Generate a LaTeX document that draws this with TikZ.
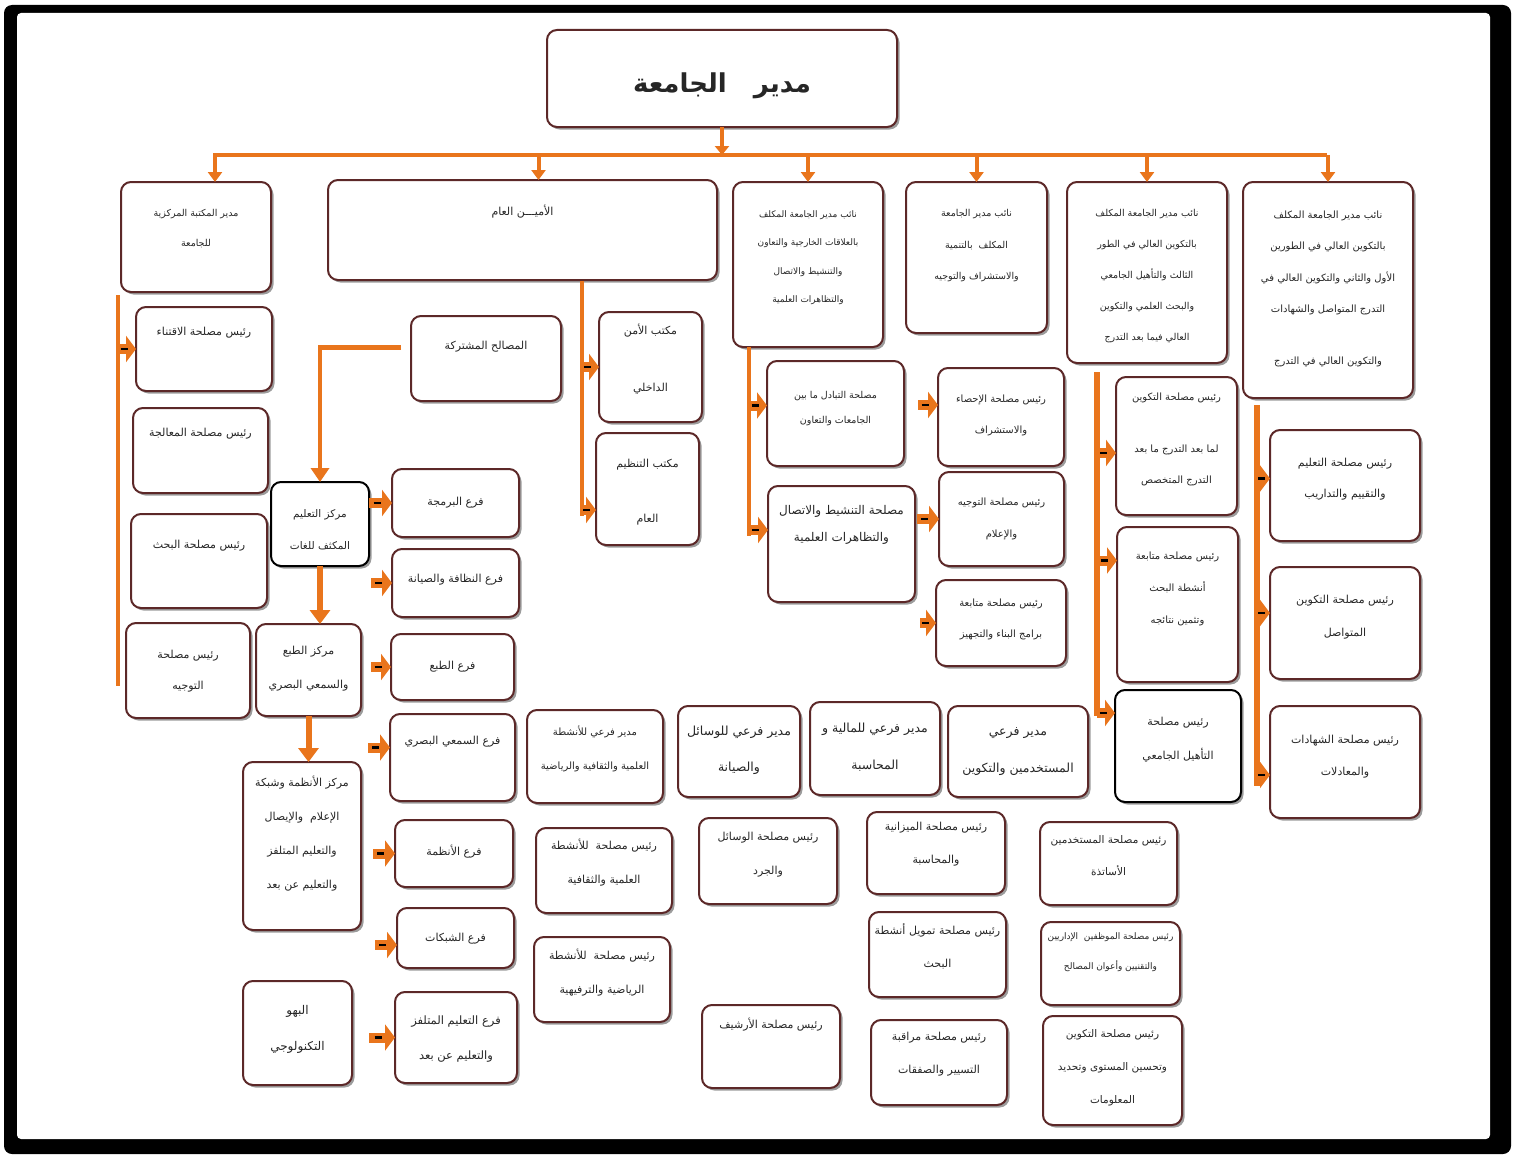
\documentclass[tikz,border=0pt]{standalone}
\usepackage{fontspec}
\newfontfamily\arabicfont[Script=Arabic]{DejaVu Sans}
\usetikzlibrary{arrows.meta,shadows,decorations.markings,calc}
\TeXXeTstate=1
\newcommand\arl[1]{\beginR #1\endR}
\definecolor{org}{RGB}{233,117,28}
\definecolor{mar}{RGB}{92,40,40}
\tikzset{
 ubox/.style={draw=mar,line width=2pt,rounded corners=10pt,fill=white,inner sep=0pt,outer sep=0pt,
   drop shadow={shadow xshift=2.5pt,shadow yshift=-2.5pt,opacity=0.55,fill=black!70}},
 txt/.style={inner sep=0pt,align=center,text=black!85,font=\arabicfont\fontsize{11}{31}\selectfont},
 fs/.style 2 args={font=\arabicfont\fontsize{#1}{#2}\selectfont},
 conn/.style={draw=org,line width=4.5pt},
 dropar/.style={conn,line width=4pt,-{Triangle[length=10pt 0 0,width=14pt 0 0]}},
 bigdrop/.style={conn,line width=6pt,-{Triangle[length=14pt 0 0,width=20pt 0 0]}},
 sarrow/.style={draw=org,line width=10pt,-{Triangle[length=10pt 0 0,width=26pt 0 0]},
   postaction={decorate,decoration={markings,mark=at position 0.35 with {\draw[black,line width=2.6pt,-] (-3.5pt,0)--(3.5pt,0);}}}},
}
\newcommand\BXg[9]{%
  \node[ubox,#1,minimum width={#6-#4},minimum height={#7-#5}] (#3) at ({(#4+#6)/2},{(#5+#7)/2}) {};
  \node[txt,#2] (#3-t) at ({(#4+#6)/2},#8) {#9};}
\newcommand\BX[1][]{\BXg{}{#1}}
\newcommand\BXK[1][]{\BXg{draw=black}{#1}}
\begin{document}
\begin{tikzpicture}[x=1pt,y=-1pt]
\useasboundingbox (0,0) rectangle (1513,1156);
\fill[white] (0,0) rectangle (1513,1156);
\fill[black,rounded corners=8pt] (4,5) rectangle (1511,1154);
\fill[white,rounded corners=4pt] (17,13) rectangle (1490,1139);

% title
\node[ubox,minimum width=350,minimum height=97] (mudir) at (722,78.5) {};
\node[txt,font=\arabicfont\bfseries\fontsize{26}{32}\selectfont] (mudir-t) at (722,86) {\arl{مدير\ \ \ الجامعة}};

% top row
\BX[fs={9.5}{30}]{maktaba}{121}{182}{271}{292}{229}{\arl{مدير المكتبة المركزية}\\\arl{للجامعة}}
\BX{amin}{328}{180}{717}{280}{212}{\arl{الأميـــن العام}}
\BX[fs={9}{28.5}]{n1}{733}{182}{883}{347}{257.5}{\arl{نائب مدير الجامعة المكلف}\\\arl{بالعلاقات الخارجية والتعاون}\\\arl{والتنشيط والاتصال}\\\arl{والتظاهرات العلمية}}
\BX[fs={9.5}{31.5}]{n2}{906}{182}{1047}{333}{246}{\arl{نائب مدير الجامعة}\\\arl{المكلف\ \ بالتنمية}\\\arl{والاستشراف والتوجيه}}
\BX[fs={9.5}{31}]{n3}{1067}{182}{1227}{363}{276.5}{\arl{نائب مدير الجامعة المكلف}\\\arl{بالتكوين العالي في الطور}\\\arl{الثالث والتأهيل الجامعي}\\\arl{والبحث العلمي والتكوين}\\\arl{العالي فيما بعد التدرج}}
\BX[fs={10}{31.5}]{n4}{1243}{182}{1413}{398}{288.5}{\arl{نائب مدير الجامعة المكلف}\\\arl{بالتكوين العالي في الطورين}\\\arl{الأول والثاني والتكوين العالي في}\\\arl{التدرج المتواصل والشهادات}\\[20pt]\arl{والتكوين العالي في التدرج}}

% left column
\BX{iqtina}{136}{307}{272}{391}{333}{\arl{رئيس مصلحة الاقتناء}}
\BX{muaalaja}{133}{408}{268}{493}{434}{\arl{رئيس مصلحة المعالجة}}
\BX{bahth}{131}{514}{267}{608}{546}{\arl{رئيس مصلحة البحث}}
\BX{tawjih}{126}{623}{250}{718}{671.5}{\arl{رئيس مصلحة}\\\arl{التوجيه}}

% common services
\BX{masalih}{411}{316}{561}{401}{347}{\arl{المصالح المشتركة}}
\BX{amn}{599}{312}{702}{422}{359.5}{\arl{مكتب الأمن}\\[26pt]\arl{الداخلي}}
\BX{tanzim}{596}{433}{699}{545}{492.5}{\arl{مكتب التنظيم}\\[24pt]\arl{العام}}
\BXK[fs={10.5}{32}]{talim}{271}{482}{369}{566}{530}{\arl{مركز التعليم}\\\arl{المكثف للغات}}
\BX{barmaja}{392}{469}{519}{537}{503}{\arl{فرع البرمجة}}
\BX{nadhafa}{392}{549}{519}{617}{580}{\arl{فرع النظافة والصيانة}}
\BX[fs={11}{34}]{tiba3a}{256}{624}{361}{716}{669}{\arl{مركز الطبع}\\\arl{والسمعي البصري}}
\BX{ftiba3a}{391}{634}{514}{700}{667}{\arl{فرع الطبع}}
\BX{sam3i}{390}{714}{515}{801}{742}{\arl{فرع السمعي البصري}}
\BX[fs={11}{34}]{andhima}{243}{762}{361}{930}{834}{\arl{مركز الأنظمة وشبكة}\\\arl{الإعلام\ \ والإيصال}\\\arl{والتعليم المتلفز}\\\arl{والتعليم عن بعد}}
\BX{fandhima}{395}{820}{513}{887}{852}{\arl{فرع الأنظمة}}
\BX{shabakat}{397}{908}{514}{968}{939}{\arl{فرع الشبكات}}
\BX[fs={12}{36}]{bahw}{243}{981}{352}{1085}{1029}{\arl{البهو}\\\arl{التكنولوجي}}
\BX[fs={11.5}{35}]{mutalfaz}{395}{992}{517}{1083}{1039.5}{\arl{فرع التعليم المتلفز}\\\arl{والتعليم عن بعد}}

% n1 group
\BX[fs={9.5}{25}]{tabadul}{767}{361}{904}{466}{408.5}{\arl{مصلحة التبادل ما بين}\\\arl{الجامعات والتعاون}}
\BX[fs={12}{27}]{tanshit}{768}{486}{915}{602}{524.5}{\arl{مصلحة التنشيط والاتصال}\\\arl{والتظاهرات العلمية}}
\BX[fs={10}{31}]{ihsa}{938}{368}{1064}{466}{415.5}{\arl{رئيس مصلحة الإحصاء}\\\arl{والاستشراف}}
\BX[fs={10}{32}]{tawjihi}{939}{472}{1064}{566}{519}{\arl{رئيس مصلحة التوجيه}\\\arl{والإعلام}}
\BX[fs={10}{31}]{bina}{936}{580}{1066}{666}{619.5}{\arl{رئيس مصلحة متابعة}\\\arl{برامج البناء والتجهيز}}

% n3 group
\BX[fs={10}{31}]{mabad}{1116}{377}{1237}{515}{439.5}{\arl{رئيس مصلحة التكوين}\\[21pt]\arl{لما بعد التدرج ما بعد}\\\arl{التدرج المتخصص}}
\BX[fs={10}{32}]{mbahth}{1117}{527}{1238}{682}{589}{\arl{رئيس مصلحة متابعة}\\\arl{أنشطة البحث}\\\arl{وتثمين نتائجه}}
\BXK[fs={11}{34}]{tahil}{1115}{690}{1241}{802}{740}{\arl{رئيس مصلحة}\\\arl{التأهيل الجامعي}}

% n4 group
\BX[fs={11}{31}]{taqyim}{1270}{430}{1420}{541}{479.5}{\arl{رئيس مصلحة التعليم}\\\arl{والتقييم والتداريب}}
\BX[fs={11}{33}]{mutawasil}{1270}{567}{1420}{679}{617.5}{\arl{رئيس مصلحة التكوين}\\\arl{المتواصل}}
\BX[fs={11}{32}]{shahadat}{1270}{706}{1420}{818}{757}{\arl{رئيس مصلحة الشهادات}\\\arl{والمعادلات}}

% bottom middle
\BX[fs={10}{34}]{mfanshita}{527}{710}{663}{803}{749}{\arl{مدير فرعي للأنشطة}\\\arl{العلمية والثقافية والرياضية}}
\BX[fs={12.5}{36}]{mfwasail}{678}{706}{800}{797}{750}{\arl{مدير فرعي للوسائل}\\\arl{والصيانة}}
\BX[fs={12.5}{37}]{mfmaliya}{810}{702}{940}{795}{747.5}{\arl{مدير فرعي للمالية و}\\\arl{المحاسبة}}
\BX[fs={12.5}{37}]{mfmust}{948}{706}{1088}{797}{751.5}{\arl{مدير فرعي}\\\arl{المستخدمين والتكوين}}
\BX[fs={11}{34}]{ranshita}{536}{828}{672}{913}{863}{\arl{رئيس مصلحة\ \ للأنشطة}\\\arl{العلمية والثقافية}}
\BX[fs={11}{34}]{rriyada}{534}{937}{670}{1022}{973}{\arl{رئيس مصلحة\ \ للأنشطة}\\\arl{الرياضية والترفيهية}}
\BX[fs={11}{34}]{rwasail}{699}{818}{837}{904}{855}{\arl{رئيس مصلحة الوسائل}\\\arl{والجرد}}
\BX[fs={11}{34}]{rarshif}{702}{1005}{840}{1088}{1025}{\arl{رئيس مصلحة الأرشيف}}
\BX[fs={11}{33}]{rmizaniya}{867}{812}{1005}{894}{844.5}{\arl{رئيس مصلحة الميزانية}\\\arl{والمحاسبة}}
\BX[fs={11}{33}]{rtamwil}{869}{912}{1006}{997}{946.5}{\arl{رئيس مصلحة تمويل أنشطة}\\\arl{البحث}}
\BX[fs={11}{33}]{rmuraqaba}{871}{1020}{1007}{1105}{1054.5}{\arl{رئيس مصلحة مراقبة}\\\arl{التسيير والصفقات}}
\BX[fs={10.5}{32}]{rasatidha}{1040}{822}{1177}{905}{856}{\arl{رئيس مصلحة المستخدمين}\\\arl{الأساتذة}}
\BX[fs={9}{30}]{rmuwazz}{1041}{922}{1180}{1005}{952}{\arl{رئيس مصلحة الموظفين\ \ الإداريين}\\\arl{والتقنيين وأعوان المصالح}}
\BX[fs={10.5}{33}]{rtahsin}{1043}{1016}{1182}{1125}{1068}{\arl{رئيس مصلحة التكوين}\\\arl{وتحسين المستوى وتحديد}\\\arl{المعلومات}}

% ===== connectors =====
\coordinate (busL) at (213,155);
\coordinate (busR) at (1327,155);
\draw[conn] (busL) -- (busR);
\draw[conn,-{Triangle[length=9pt 0 0,width=14pt 0 0]}] (mudir.south) -- (mudir.south |- busL);
\coordinate (dmak) at ([xshift=19pt]maktaba.north);
\coordinate (damin) at ([xshift=16pt]amin.north);
\foreach \t in {dmak,damin,n1.north,n2.north,n3.north,n4.north}
  \draw[dropar] (busL -| \t) -- (\t);

% left trunk
\coordinate (tL1) at (118,295);
\coordinate (tL2) at (118,686);
\draw[conn] (tL1) -- (tL2);
\draw[sarrow] (tL1 |- iqtina.west) -- (iqtina.west);

% amin trunk
\coordinate (tA1) at (582,281);
\coordinate (tA2) at (582,516);
\draw[conn] (tA1) -- (tA2);
\draw[sarrow] (tA1 |- amn.west) -- (amn.west);
\coordinate (tz) at ([yshift=-21pt]tanzim.west);
\draw[sarrow] (tA1 |- tz) -- (tz);

% common services chain
\coordinate (ms) at ([xshift=-10pt,yshift=11pt]masalih.west);
\draw[conn,-{Triangle[length=14pt 0 0,width=18pt 0 0]}] (ms) -| (talim.north);
\draw[sarrow] (talim.east |- barmaja.west) -- (barmaja.west);
\draw[sarrow] ([xshift=-21pt]nadhafa.west) -- (nadhafa.west);
\draw[bigdrop] (talim.south) -- (talim.south |- tiba3a.north);
\draw[sarrow] ([xshift=-20pt]ftiba3a.west) -- (ftiba3a.west);
\draw[sarrow] ([xshift=-22pt,yshift=10pt]sam3i.west) -- ([yshift=10pt]sam3i.west);
\draw[bigdrop] (tiba3a.south) -- (tiba3a.south |- andhima.north);
\draw[sarrow] ([xshift=-22pt]fandhima.west) -- (fandhima.west);
\draw[sarrow] ([xshift=-22pt,yshift=-7pt]shabakat.west) -- ([yshift=-7pt]shabakat.west);
\draw[sarrow] ([xshift=-26pt]mutalfaz.west) -- (mutalfaz.west);

% n1 trunk
\coordinate (tN1a) at (749,347);
\coordinate (tN1b) at (749,536);
\draw[conn] (tN1a) -- (tN1b);
\coordinate (tb) at ([yshift=8pt]tabadul.west);
\draw[sarrow] (tN1a |- tb) -- (tb);
\coordinate (ts) at ([yshift=14pt]tanshit.west);
\draw[sarrow] (tN1a |- ts) -- (ts);
\draw[sarrow] ([xshift=-20pt,yshift=12pt]ihsa.west) -- ([yshift=12pt]ihsa.west);
\draw[sarrow] ([xshift=-22pt]tawjihi.west) -- (tawjihi.west);
\draw[sarrow] ([xshift=-16pt]bina.west) -- (bina.west);

% n3 trunk
\coordinate (tN3a) at (1097,372);
\coordinate (tN3b) at (1097,716);
\draw[conn,line width=5.5pt] (tN3a) -- (tN3b);
\coordinate (m1) at ([yshift=-7pt]mabad.west);
\coordinate (m2) at ([yshift=44pt]mbahth.west);
\coordinate (m3) at ([yshift=33pt]tahil.west);
\foreach \t in {m1,m2,m3} \draw[sarrow] (tN3a |- \t) -- (\t);

% n4 trunk
\coordinate (tN4a) at (1257,405);
\coordinate (tN4b) at (1257,786);
\draw[conn,line width=5.5pt] (tN4a) -- (tN4b);
\coordinate (q1) at ([yshift=7pt]taqyim.west);
\coordinate (q2) at ([yshift=10pt]mutawasil.west);
\coordinate (q3) at ([yshift=-13pt]shahadat.west);
\foreach \t in {q1,q2,q3} \draw[sarrow] (tN4a |- \t) -- (\t);
\end{tikzpicture}
\end{document}
